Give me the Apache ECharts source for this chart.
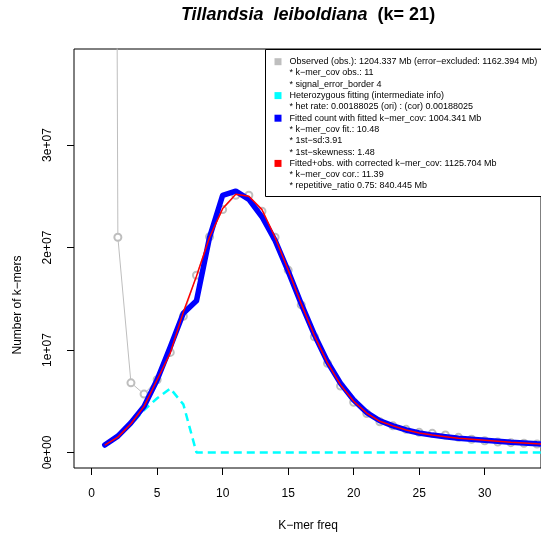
<!DOCTYPE html>
<html>
<head>
<meta charset="utf-8">
<script src="https://cdn.jsdelivr.net/npm/echarts@6/dist/echarts.min.js"></script>
<style>html,body{margin:0;padding:0;background:#fff;}#c{width:541px;height:539px;}</style>
</head>
<body>
<div id="c"></div>
<script>
// k-mer frequencies (x)
const freq = [1,2,3,4,5,6,7,8,9,10,11,12,13,14,15,16,17,18,19,20,21,22,23,24,25,26,27,28,29,30,31,32,33,34,35];
// Observed counts
const observed = [3.7e8,2.10e7,0.68e7,0.57e7,0.71e7,0.977e7,1.33e7,1.73e7,2.105e7,2.37e7,2.51e7,2.51e7,2.355e7,2.10e7,1.78e7,1.44e7,1.13e7,0.87e7,0.649e7,0.49e7,0.38e7,0.30e7,0.26e7,0.226e7,0.197e7,0.187e7,0.171e7,0.148e7,0.129e7,0.115e7,0.102e7,0.096e7,0.09e7,0.083e7,0.078e7];
// Heterozygous fitting
const hetero = [0.07e7,0.15e7,0.27e7,0.415e7,0.53e7,0.625e7,0.47e7,0,0,0,0,0,0,0,0,0,0,0,0,0,0,0,0,0,0,0,0,0,0,0,0,0,0,0,0];
// Fitted count with fitted k-mer_cov
const fitted = [0.073e7,0.16e7,0.29e7,0.45e7,0.71e7,1.03e7,1.36e7,1.48e7,2.1e7,2.51e7,2.55e7,2.47e7,2.30e7,2.07e7,1.77e7,1.45e7,1.15e7,0.886e7,0.675e7,0.512e7,0.39e7,0.31e7,0.26e7,0.22e7,0.19e7,0.17e7,0.154e7,0.14e7,0.13e7,0.12e7,0.11e7,0.10e7,0.093e7,0.085e7,0.08e7];
// Fitted + observed with corrected k-mer_cov
const corrected = [0.073e7,0.15e7,0.28e7,0.45e7,0.71e7,0.97e7,1.37e7,1.72e7,2.10e7,2.38e7,2.52e7,2.50e7,2.37e7,2.10e7,1.78e7,1.45e7,1.14e7,0.875e7,0.66e7,0.50e7,0.385e7,0.305e7,0.26e7,0.22e7,0.19e7,0.17e7,0.155e7,0.14e7,0.13e7,0.12e7,0.11e7,0.10e7,0.093e7,0.085e7,0.08e7];
// Tick values / labels
const xTicks = [0,5,10,15,20,25,30];
const yTicks = [0,1e7,2e7,3e7];
const yTickLabels = ['0e+00','1e+07','2e+07','3e+07'];
const legendLines = [
  {t:'Observed (obs.): 1204.337 Mb (error\u2212excluded: 1162.394 Mb)', c:'#BEBEBE'},
  {t:'* k\u2212mer_cov obs.: 11'},
  {t:'* signal_error_border 4'},
  {t:'Heterozygous fitting (intermediate info)', c:'#00FFFF'},
  {t:'* het rate: 0.00188025 (ori) : (cor) 0.00188025'},
  {t:'Fitted count with fitted k\u2212mer_cov: 1004.341 Mb', c:'#0000FF'},
  {t:'* k\u2212mer_cov fit.: 10.48'},
  {t:'* 1st\u2212sd:3.91'},
  {t:'* 1st\u2212skewness: 1.48'},
  {t:'Fitted+obs. with corrected k\u2212mer_cov: 1125.704 Mb', c:'#FF0000'},
  {t:'* k\u2212mer_cov cor.: 11.39'},
  {t:'* repetitive_ratio 0.75: 840.445 Mb'}
];

const pair = arr => freq.map((f,i)=>[f, arr[i]]);
const FONT = 'Liberation Sans, Arial, Helvetica, sans-serif';

const graphics = [];
graphics.push({type:'text', style:{x:308, y:15, align:'center', verticalAlign:'middle',
  text:'{i|Tillandsia  leiboldiana}{b|  (k= 21)}',
  rich:{i:{fontFamily:FONT, fontSize:18, fontWeight:'bold', fontStyle:'italic', fill:'#000'},
        b:{fontFamily:FONT, fontSize:18, fontWeight:'bold', fill:'#000'}}}});
graphics.push({type:'text', style:{x:308, y:526, align:'center', verticalAlign:'middle', text:'K\u2212mer freq', fontFamily:FONT, fontSize:12, fill:'#000'}});
graphics.push({type:'text', x:18, y:305, rotation:Math.PI/2, style:{x:0, y:0, align:'center', verticalAlign:'middle', text:'Number of k\u2212mers', fontFamily:FONT, fontSize:12, fill:'#000'}});
// legend box
graphics.push({type:'rect', z:10, shape:{x:265.5, y:49.5, width:290, height:147}, style:{fill:'#fff', stroke:'#000', lineWidth:1}});
legendLines.forEach((l,i)=>{
  const y = 61.7 + i*11.3;
  if (l.c) graphics.push({type:'rect', z:11, shape:{x:274.5, y:y-3.5, width:7, height:7}, style:{fill:l.c}});
  graphics.push({type:'text', z:11, style:{x:289.5, y:y, align:'left', verticalAlign:'middle', text:l.t, fontFamily:FONT, fontSize:9, fill:'#000'}});
});

const chart = echarts.init(document.getElementById('c'), null, {renderer:'canvas'});
chart.setOption({
  animation:false,
  backgroundColor:'#fff',
  grid:{left:74, top:49, bottom:71, right:-1, show:true, borderColor:'#000', borderWidth:1, backgroundColor:'transparent'},
  xAxis:{type:'value', min:-1.348, max:34.3, position:'bottom',
    axisLine:{show:false, onZero:false},
    splitLine:{show:false},
    axisTick:{show:true, inside:false, length:7, lineStyle:{color:'#000'}, customValues:xTicks},
    axisLabel:{show:true, margin:20, fontFamily:FONT, fontSize:12, color:'#000', customValues:xTicks, formatter:v=>String(v)}
  },
  yAxis:{type:'value', min:-0.151e7, max:3.937e7, position:'left',
    axisLine:{show:false, onZero:false},
    splitLine:{show:false},
    axisTick:{show:true, inside:false, length:7, lineStyle:{color:'#000'}, customValues:yTicks},
    axisLabel:{show:true, margin:20, rotate:90, fontFamily:FONT, fontSize:12, color:'#000', customValues:yTicks,
      formatter:v=>{const i=yTicks.indexOf(v); return i>=0?yTickLabels[i]:'';}}
  },
  series:[
    {type:'line', data:pair(observed), clip:true, symbol:'emptyCircle', symbolSize:7, showAllSymbol:true,
      lineStyle:{color:'#BEBEBE', width:1}, itemStyle:{color:'#BEBEBE', borderColor:'#BEBEBE', borderWidth:1}, z:1},
    {type:'line', data:pair(hetero), clip:true, symbol:'none', lineStyle:{color:'#00FFFF', width:2.5, type:[8,5]}, z:2},
    {type:'line', data:pair(fitted), clip:true, symbol:'none', lineStyle:{color:'#0000FF', width:5.5, join:'round', cap:'round'}, z:3},
    {type:'line', data:pair(corrected), clip:true, symbol:'none', lineStyle:{color:'#FF0000', width:1.5}, z:4}
  ],
  graphic:graphics
});
</script>
</body>
</html>
